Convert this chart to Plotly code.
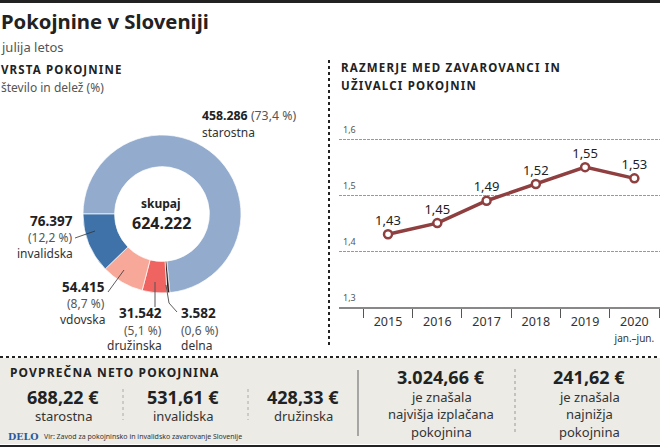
import plotly.graph_objects as go

W = 660
H = 447
FONT = 'Noto Sans'
DARK = '#222222'
GREY = '#555555'

# donut data
pie_labels = ['starostna', 'delna', 'družinska', 'vdovska', 'invalidska']
pie_values = [458286, 3582, 31542, 54415, 76397]
pie_colors = ['#93acce', '#3a1f1f', '#ef6360', '#f7a898', '#3f72a8']

# line data
years = ['2015', '2016', '2017', '2018', '2019', '2020']
ratio = [1.43, 1.45, 1.49, 1.52, 1.55, 1.53]
ratio_labels = ['1,43', '1,45', '1,49', '1,52', '1,55', '1,53']
y_ticks = [1.3, 1.4, 1.5, 1.6]
y_tick_labels = ['1,3', '1,4', '1,5', '1,6']


def px(x):
    return x / W


def py(y):
    return 1 - y / H


def spaced(s, sp=1):
    return "<span style='letter-spacing:%spx'>%s</span>" % (sp, s)


annotations = []


def label(x, y, text, size=12, color=DARK, bold=False, anchor='left', family=FONT):
    if bold:
        text = '<b>' + text + '</b>'
    annotations.append(dict(
        x=px(x), y=py(y), xref='paper', yref='paper', text=text, showarrow=False,
        xanchor=anchor, yanchor='middle', align=anchor,
        font=dict(family=family, size=size, color=color),
        borderpad=0, borderwidth=0,
    ))


def line(x0, y0, x1, y1, color=DARK, width=1, dash='solid'):
    return dict(type='line', xref='paper', yref='paper', x0=px(x0), y0=py(y0), x1=px(x1), y1=py(y1),
                line=dict(color=color, width=width, dash=dash))


fig = go.Figure()

fig.add_trace(go.Pie(
    labels=pie_labels,
    values=pie_values,
    hole=0.6,
    sort=False,
    direction='clockwise',
    rotation=270,
    textinfo='none',
    showlegend=False,
    marker=dict(colors=pie_colors, line=dict(color='white', width=0.7)),
    domain=dict(x=[px(83), px(241)], y=[py(293), py(135)]),
))

fig.add_trace(go.Scatter(
    x=years,
    y=ratio,
    mode='lines+markers+text',
    text=ratio_labels,
    textposition='top center',
    textfont=dict(family=FONT, size=13, color=DARK),
    line=dict(color='#8f3f3f', width=3.5),
    marker=dict(size=8, color='white', line=dict(color='#8f3f3f', width=2.5)),
    showlegend=False,
))

# texts
label(1, 21, 'Pokojnine v Sloveniji', size=20.3, bold=True)
label(1, 47, 'julija letos', size=13, color=GREY)
label(1, 69, spaced('VRSTA POKOJNINE', 1.15), size=11.5, bold=True)
label(1, 87, 'število in delež (%)', size=12, color=GREY)

label(202, 116, '<b>458.286</b> <span style="color:#555555">(73,4 %)</span>', size=12.3)
label(202, 132, 'starostna', size=12, color='#333333')
label(161, 203, 'skupaj', size=12, bold=True, anchor='center')
label(161, 223, '624.222', size=16, bold=True, anchor='center')

label(73, 221, '76.397', size=13.5, bold=True, anchor='right')
label(73, 237, '(12,2 %)', size=12, color=GREY, anchor='right')
label(73, 253, 'invalidska', size=12, color='#333333', anchor='right')
label(105, 287, '54.415', size=13.5, bold=True, anchor='right')
label(105, 303, '(8,7 %)', size=12, color=GREY, anchor='right')
label(105, 319, 'vdovska', size=12, color='#333333', anchor='right')
label(162, 313, '31.542', size=13.5, bold=True, anchor='right')
label(162, 330, '(5,1 %)', size=12, color=GREY, anchor='right')
label(162, 345, 'družinska', size=12, color='#333333', anchor='right')
label(181, 313, '3.582', size=13.5, bold=True)
label(181, 330, '(0,6 %)', size=12, color=GREY)
label(181, 345, 'delna', size=12, color='#333333')

label(341, 67, spaced('RAZMERJE MED ZAVAROVANCI IN', 1.2), size=11.5, bold=True)
label(341, 85, spaced('UŽIVALCI POKOJNIN', 1.2), size=11.5, bold=True)

for t, s in zip(y_ticks, y_tick_labels):
    annotations.append(dict(
        x=px(341), y=t, xref='paper', yref='y', text=s, showarrow=False,
        xanchor='left', yanchor='bottom', yshift=1,
        font=dict(family=FONT, size=9, color=GREY),
    ))

label(10, 372, spaced('POVPREČNA NETO POKOJNINA', 1.15), size=12, bold=True)
label(63, 397, '688,22 €', size=18, bold=True, anchor='center')
label(63, 416, 'starostna', size=13, color='#333333', anchor='center')
label(183, 397, '531,61 €', size=18, bold=True, anchor='center')
label(183, 416, 'invalidska', size=13, color='#333333', anchor='center')
label(303, 397, '428,33 €', size=18, bold=True, anchor='center')
label(303, 416, 'družinska', size=13, color='#333333', anchor='center')

label(441, 377, '3.024,66 €', size=18, bold=True, anchor='center')
label(441, 397, 'je znašala', size=13, color='#333333', anchor='center')
label(441, 414, 'najvišja izplačana', size=13, color='#333333', anchor='center')
label(441, 432, 'pokojnina', size=13, color='#333333', anchor='center')
label(589, 377, '241,62 €', size=18, bold=True, anchor='center')
label(589, 397, 'je znašala', size=13, color='#333333', anchor='center')
label(589, 414, 'najnižja', size=13, color='#333333', anchor='center')
label(589, 432, 'pokojnina', size=13, color='#333333', anchor='center')

label(8, 436, 'DELO', size=9.5, color='#2a5a9c', bold=True, family='DejaVu Serif')
label(44, 436, 'Vir: Zavod za pokojninsko in invalidsko zavarovanje Slovenije', size=7, color='#333333')

shapes = [
    dict(type='rect', xref='paper', yref='paper', x0=0, x1=1, y0=py(444), y1=py(358),
         fillcolor='#ecebe6', line=dict(width=0), layer='below'),
    dict(type='rect', xref='paper', yref='paper', x0=0, x1=1, y0=py(3), y1=1,
         fillcolor='#222222', line=dict(width=0)),
    dict(type='rect', xref='paper', yref='paper', x0=0, x1=1, y0=0, y1=py(445),
         fillcolor='#222222', line=dict(width=0)),
    line(0, 357, 660, 357, width=2, dash='dot'),
    line(329, 60, 329, 347, width=2, dash='dot'),
    line(123, 389, 123, 420, color='#aaaaaa', dash='dot'),
    line(248, 389, 248, 420, color='#aaaaaa', dash='dot'),
    line(358, 370, 358, 436, color='#777777', width=1.2),
    line(515, 369, 515, 434, color='#999999', dash='dot'),
    # leader lines
    line(75, 238, 95, 231, color='#333333', width=0.8),
    line(108, 292, 124, 270, color='#333333', width=0.8),
    line(155, 282, 155, 307, color='#555555', width=1),
    line(166, 285, 169, 303, color='#333333', width=0.8),
    line(169, 303, 177, 312, color='#333333', width=0.8),
]

fig.update_layout(
    width=W,
    height=H,
    margin=dict(l=0, r=0, t=0, b=0),
    paper_bgcolor='white',
    plot_bgcolor='rgba(0,0,0,0)',
    font=dict(family=FONT, color=DARK),
    xaxis=dict(
        domain=[px(339), 1],
        type='category',
        range=[-0.995, 5.52],
        tickmode='array',
        tickvals=years,
        ticktext=years[:-1] + ["2020<br><span style='font-size:10px'>jan.–jun.</span>"],
        tickson='boundaries',
        ticks='outside',
        ticklen=9,
        tickwidth=1,
        tickcolor='#555555',
        tickangle=0,
        ticklabelstandoff=2,
        showgrid=False,
        showline=True,
        linecolor='#888888',
        linewidth=1.5,
        tickfont=dict(family=FONT, size=12.5, color='#333333'),
    ),
    yaxis=dict(
        # a little headroom so the 1,6 gridline is not dropped at the range edge
        domain=[py(307), py(128)],
        range=[1.3, 1.62],
        tickmode='array',
        tickvals=y_ticks,
        showticklabels=False,
        ticks='',
        showline=False,
        zeroline=False,
        showgrid=True,
        gridcolor='#999999',
        griddash='3px,1px',
        gridwidth=1,
    ),
    annotations=annotations,
    shapes=shapes,
)

# the page has a default body margin which would push the chart off the window
fig.write_html(
    "out.html",
    config=dict(displayModeBar=False),
    post_script="document.body.style.margin='0';document.body.style.overflow='hidden';",
)
